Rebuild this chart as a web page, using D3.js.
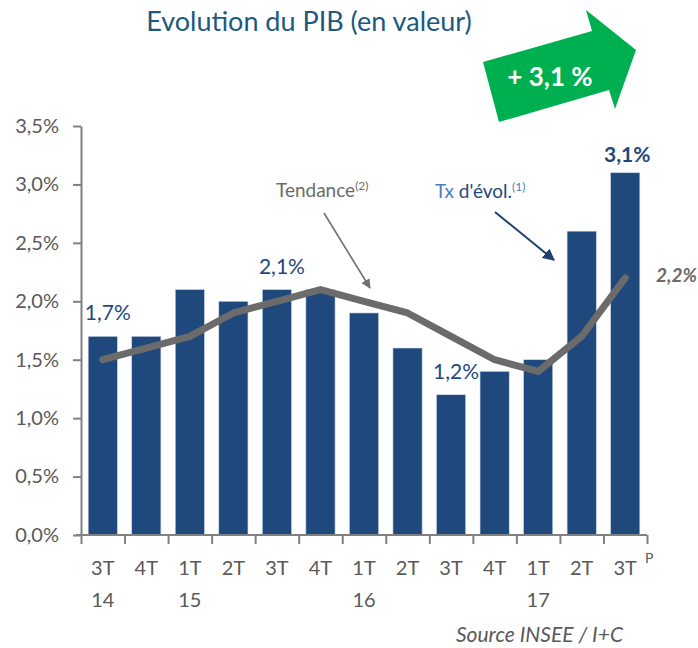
<!DOCTYPE html>
<html>
<head>
<meta charset="utf-8">
<script src="https://cdn.jsdelivr.net/npm/d3@7"></script>
<style>
  body { margin: 0; background: #fff; }
  svg { display: block; font-family: Lato, "Open Sans", sans-serif; }
</style>
</head>
<body>
<svg></svg>
<script>
"use strict";

var quarters = ["3T", "4T", "1T", "2T", "3T", "4T", "1T", "2T", "3T", "4T", "1T", "2T", "3T"];
var years = ["14", "", "15", "", "", "", "16", "", "", "", "17", "", ""];
var txEvol = [1.7, 1.7, 2.1, 2.0, 2.1, 2.1, 1.9, 1.6, 1.2, 1.4, 1.5, 2.6, 3.1];
var tendance = [1.5, 1.6, 1.7, 1.9, 2.0, 2.1, 2.0, 1.9, 1.7, 1.5, 1.4, 1.7, 2.2];
var yTicks = [0, 0.5, 1, 1.5, 2, 2.5, 3, 3.5];
// bars that carry a value label
var labelled = [0, 4, 8];

var width = 698,
    height = 648;

var svg = d3.select("svg")
    .attr("width", width)
    .attr("height", height);

var x = d3.scaleBand()
    .domain(d3.range(quarters.length))
    .range([81, 647])
    .paddingInner(0.33)
    .paddingOuter(0.165);

var xEdge = d3.scaleLinear()
    .domain([0, quarters.length])
    .range([81, 647]);

var y = d3.scaleLinear()
    .domain([0, 3.5])
    .range([535, 126]);

var fmt = function (v) { return d3.format(".1f")(v).replace(".", ",") + "%"; };

// title
svg.append("text")
    .attr("x", 309)
    .attr("y", 31)
    .attr("text-anchor", "middle")
    .style("font-size", "27px")
    .style("fill", "#1b5a7e")
    .text("Evolution du PIB (en valeur)");

// green arrow
var arrowPts = [[483, 62], [592, 31], [586, 10], [636, 50], [615, 109], [609, 90], [499, 122]];
svg.append("polygon")
    .attr("points", arrowPts.map(function (p) { return p.join(","); }).join(" "))
    .style("fill", "#00b050");
svg.append("text")
    .attr("x", 550)
    .attr("y", 86)
    .attr("text-anchor", "middle")
    .style("font-size", "26px")
    .style("font-weight", "bold")
    .style("fill", "#fff")
    .text("+ 3,1 %");

// y axis
var yAxis = svg.append("g")
    .attr("transform", "translate(81,0)")
    .call(d3.axisLeft(y).tickValues(yTicks).tickSize(8).tickSizeOuter(0).tickFormat(fmt));
yAxis.select(".domain").style("stroke", "#808080").style("stroke-width", 2);
yAxis.selectAll(".tick line").style("stroke", "#808080").style("stroke-width", 2);
yAxis.selectAll(".tick text")
    .attr("x", -22)
    .style("font-size", "20px")
    .style("font-family", "Lato, sans-serif")
    .style("fill", "#595959");

// bars
svg.selectAll("rect.bar")
    .data(txEvol)
    .enter()
    .append("rect")
    .attr("class", "bar")
    .attr("x", function (d, i) { return x(i); })
    .attr("y", function (d) { return y(d); })
    .attr("width", x.bandwidth())
    .attr("height", function (d) { return y(0) - y(d); })
    .style("fill", "#1f497d")
    .style("stroke", "#c9d4e3")
    .style("stroke-width", 0.6);

// x axis (ticks on band edges)
var xAxis = svg.append("g")
    .attr("transform", "translate(0,535)")
    .call(d3.axisBottom(xEdge).tickValues(d3.range(quarters.length + 1)).tickSize(9).tickSizeOuter(0).tickFormat(""));
xAxis.select(".domain").attr("d", "M76,0H647").style("stroke", "#808080").style("stroke-width", 2);
xAxis.selectAll(".tick line").style("stroke", "#808080").style("stroke-width", 2);

var catLabels = svg.append("g")
    .style("font-size", "20px")
    .style("fill", "#595959");
catLabels.selectAll("text.q")
    .data(quarters)
    .enter()
    .append("text")
    .attr("x", function (d, i) { return x(i) + x.bandwidth() / 2; })
    .attr("y", 575)
    .attr("text-anchor", "middle")
    .text(function (d) { return d; });
catLabels.selectAll("text.yr")
    .data(years)
    .enter()
    .append("text")
    .attr("x", function (d, i) { return x(i) + x.bandwidth() / 2; })
    .attr("y", 607)
    .attr("text-anchor", "middle")
    .text(function (d) { return d; });
svg.append("text")
    .attr("x", 645)
    .attr("y", 563)
    .style("font-size", "14px")
    .style("fill", "#595959")
    .text("P");

// trend line
var line = d3.line()
    .x(function (d, i) { return x(i) + x.bandwidth() / 2; })
    .y(function (d) { return y(d); });
svg.append("path")
    .datum(tendance)
    .attr("d", line)
    .style("fill", "none")
    .style("stroke", "#6b6b6b")
    .style("stroke-width", 7)
    .style("stroke-linecap", "round")
    .style("stroke-linejoin", "round");

// value labels
svg.selectAll("text.val")
    .data(labelled)
    .enter()
    .append("text")
    .attr("x", function (i) { return x(i) + x.bandwidth() / 2 + 5; })
    .attr("y", function (i) { return y(txEvol[i]) - 16; })
    .attr("text-anchor", "middle")
    .style("font-size", "21px")
    .style("fill", "#1f497d")
    .text(function (i) { return fmt(txEvol[i]); });

var last = txEvol.length - 1;
svg.append("text")
    .attr("x", x(last) + x.bandwidth() / 2 + 2)
    .attr("y", y(txEvol[last]) - 11)
    .attr("text-anchor", "middle")
    .style("font-size", "21px")
    .style("font-weight", "bold")
    .style("fill", "#1f497d")
    .text(fmt(txEvol[last]));

svg.append("text")
    .attr("x", 697)
    .attr("y", y(tendance[last]) + 4)
    .attr("text-anchor", "end")
    .style("font-size", "19px")
    .style("font-weight", "bold")
    .style("font-style", "italic")
    .style("fill", "#6b6b6b")
    .text(fmt(tendance[last]));

// annotations
var defs = svg.append("defs");
function marker(id, color) {
    defs.append("marker")
        .attr("id", id)
        .attr("viewBox", "0 0 10 10")
        .attr("refX", 9)
        .attr("refY", 5)
        .attr("markerWidth", 6)
        .attr("markerHeight", 6)
        .attr("orient", "auto")
        .append("path")
        .attr("d", "M0,0L10,5L0,10z")
        .style("fill", color);
}
marker("arrGray", "#707070");
marker("arrBlue", "#1f3f6e");

var tend = svg.append("text")
    .attr("x", 276)
    .attr("y", 197)
    .style("font-size", "19px")
    .style("fill", "#6b6b6b");
tend.append("tspan").text("Tendance");
tend.append("tspan").attr("dy", -7).style("font-size", "12px").text("(2)");

svg.append("line")
    .attr("x1", 324).attr("y1", 213)
    .attr("x2", 370).attr("y2", 288)
    .style("stroke", "#707070")
    .style("stroke-width", 1.6)
    .attr("marker-end", "url(#arrGray)");

var tx = svg.append("text")
    .attr("x", 435)
    .attr("y", 198)
    .style("font-size", "19px");
tx.append("tspan").style("fill", "#4a7ebb").text("Tx ");
tx.append("tspan").style("fill", "#1f497d").text("d'évol.");
tx.append("tspan").attr("dy", -7).style("font-size", "12px").style("fill", "#4a7ebb").text("(1)");

svg.append("line")
    .attr("x1", 495).attr("y1", 212)
    .attr("x2", 554).attr("y2", 260)
    .style("stroke", "#1f3f6e")
    .style("stroke-width", 2)
    .attr("marker-end", "url(#arrBlue)");

// source
svg.append("text")
    .attr("x", 623)
    .attr("y", 642)
    .attr("text-anchor", "end")
    .style("font-size", "21px")
    .style("font-style", "italic")
    .style("fill", "#595959")
    .text("Source INSEE / I+C");
</script>
</body>
</html>
